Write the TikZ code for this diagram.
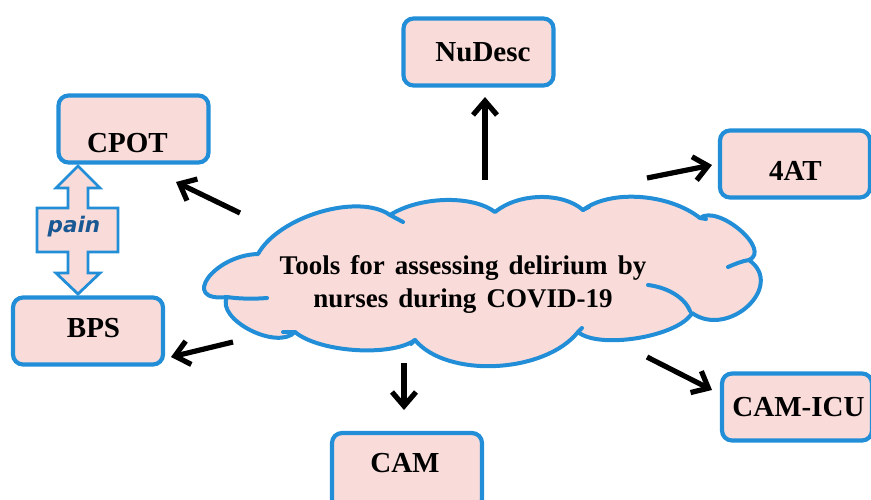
\documentclass[tikz,border=0pt]{standalone}
\usepackage{fontspec}
\setmainfont{Liberation Serif}
\newfontfamily\cloudfont{Liberation Serif}[WordSpace=1.5]
\newfontfamily\painfont{DejaVu Sans}
\usetikzlibrary{calc,arrows.meta}
\definecolor{boxpink}{RGB}{249,220,217}
\definecolor{boxblue}{RGB}{34,142,216}
\definecolor{paintext}{RGB}{26,88,148}
\tikzset{
  toolbox/.style={draw=boxblue, fill=boxpink, line width=4.2pt, rounded corners=10pt,
    minimum width=150pt, minimum height=67pt, inner sep=0pt},
  toollabel/.style={font=\bfseries\fontsize{29}{33}\selectfont, inner sep=0pt},
  pointer/.style={line width=5.2pt, -{Straight Barb[length=14pt,width=24pt]}},
  cloudline/.style={draw=boxblue, line width=4pt, line cap=round},
  lobe/.style n args={4}{insert path={
    .. controls ($ {1/3-#1}*(#2) + {#1-2/3}*(#4) + 1.3333*(#3) $)
       and ($ {1/3-#1}*(#4) + {#1-2/3}*(#2) + 1.3333*(#3) $) .. (#4)}},
}
\begin{document}
\begin{tikzpicture}[x=1pt,y=-1pt]
\useasboundingbox (0,0) rectangle (871,499);
% cloud joins and lobe peaks
\coordinate (J1) at (295,332);  \coordinate (M1) at (250,330);
\coordinate (J2) at (227,297);  \coordinate (M2) at (208,278);
\coordinate (J3) at (258,254);  \coordinate (M3) at (320,212);
\coordinate (J4) at (390,215);  \coordinate (M4) at (445,200);
\coordinate (J5) at (495,212);  \coordinate (M5) at (540,197);
\coordinate (J6) at (583,210);  \coordinate (M6) at (640,197);
\coordinate (J7) at (700,218);  \coordinate (M7) at (740,230);
\coordinate (J8) at (749,260);  \coordinate (M8) at (748,306);
\coordinate (J9) at (692,313);  \coordinate (M9) at (638,338);
\coordinate (J10) at (578,332); \coordinate (M10) at (496,366);
\coordinate (J11) at (415,340); \coordinate (M11) at (355,350);
\path[cloudline, fill=boxpink, line join=round] (J1)
  [lobe={0.05}{J1}{M1}{J2}] [lobe={-0.05}{J2}{M2}{J3}] [lobe={0.2}{J3}{M3}{J4}]
  [lobe={0.25}{J4}{M4}{J5}] [lobe={0.25}{J5}{M5}{J6}] [lobe={0.25}{J6}{M6}{J7}]
  [lobe={-0.05}{J7}{M7}{J8}] [lobe={0}{J8}{M8}{J9}] [lobe={0.15}{J9}{M9}{J10}]
  [lobe={0.2}{J10}{M10}{J11}] [lobe={0.2}{J11}{M11}{J1}] -- cycle;
% inner arcs of the cloud
\draw[cloudline] (J2) .. controls (240,299) and (255,299) .. (267,298);
\draw[cloudline] (J8) .. controls (742,261) and (735,264) .. (728,267);
\draw[cloudline] (648,285) .. controls (665,287) and (684,296) .. (690,311);
\draw[cloudline] (J1) -- (283,332);
\draw[cloudline] (J4) -- (403,222);
\draw[cloudline] (J6) -- (589,207);
\draw[cloudline] (J7) -- (706,219);
\draw[cloudline] (J10) -- (582,328);
\draw[cloudline] (J11) -- (411,344);
\node[align=center, font=\cloudfont\bfseries\fontsize{27}{33}\selectfont, inner sep=0pt] (title) at (463,284)
  {Tools for assessing delirium by\\nurses during COVID-19};
% boxes
\node[toolbox] (nudesc) at (478.5,52) {};
\node[toollabel] (nudescT) at (483,52) {NuDesc};
\node[toolbox] (cpot) at (133.5,129) {};
\node[toollabel] (cpotT) at (127.5,143) {CPOT};
\node[toolbox] (bps) at (88,331) {};
\node[toollabel] (bpsT) at (93.5,328) {BPS};
\node[toolbox] (fourat) at (795,164) {};
\node[toollabel] (fouratT) at (795.5,171) {4AT};
\node[toolbox] (camicu) at (797,407) {};
\node[toollabel] (camicuT) at (798.5,407.5) {CAM-ICU};
\node[toolbox, minimum height=76pt] (cam) at (407,471) {};
\node[toollabel] (camT) at (405,463) {CAM};
% pain double arrow
\path[draw=boxblue, fill=boxpink, line width=2.8pt, line join=miter]
  (78,166) -- (100,188) -- (88,188) -- (88,208) -- (118,208) -- (118,252) -- (88,252)
  -- (88,273) -- (100,273) -- (78,294) -- (56,273) -- (68,273) -- (68,252) -- (37,252)
  -- (37,208) -- (68,208) -- (68,188) -- (56,188) -- cycle;
\node[font=\painfont\bfseries\itshape\fontsize{21.5}{24}\selectfont, text=paintext, inner sep=0pt] (pain) at (74,227) {pain};
% arrows
\coordinate (sN) at (485,180); \coordinate (tN) at (485,97);
\coordinate (sC) at (240,213); \coordinate (tC) at (176,182);
\coordinate (sB) at (233,342); \coordinate (tB) at (171,357);
\coordinate (sA) at (647,178); \coordinate (tA) at (712,165);
\coordinate (sI) at (647,357); \coordinate (tI) at (712,390);
\coordinate (sM) at (404,363); \coordinate (tM) at (404,410);
\draw[pointer] (sN) -- (tN);
\draw[pointer] (sC) -- (tC);
\draw[pointer] (sB) -- (tB);
\draw[pointer] (sA) -- (tA);
\draw[pointer] (sI) -- (tI);
\draw[pointer] (sM) -- (tM);
\end{tikzpicture}
\end{document}
